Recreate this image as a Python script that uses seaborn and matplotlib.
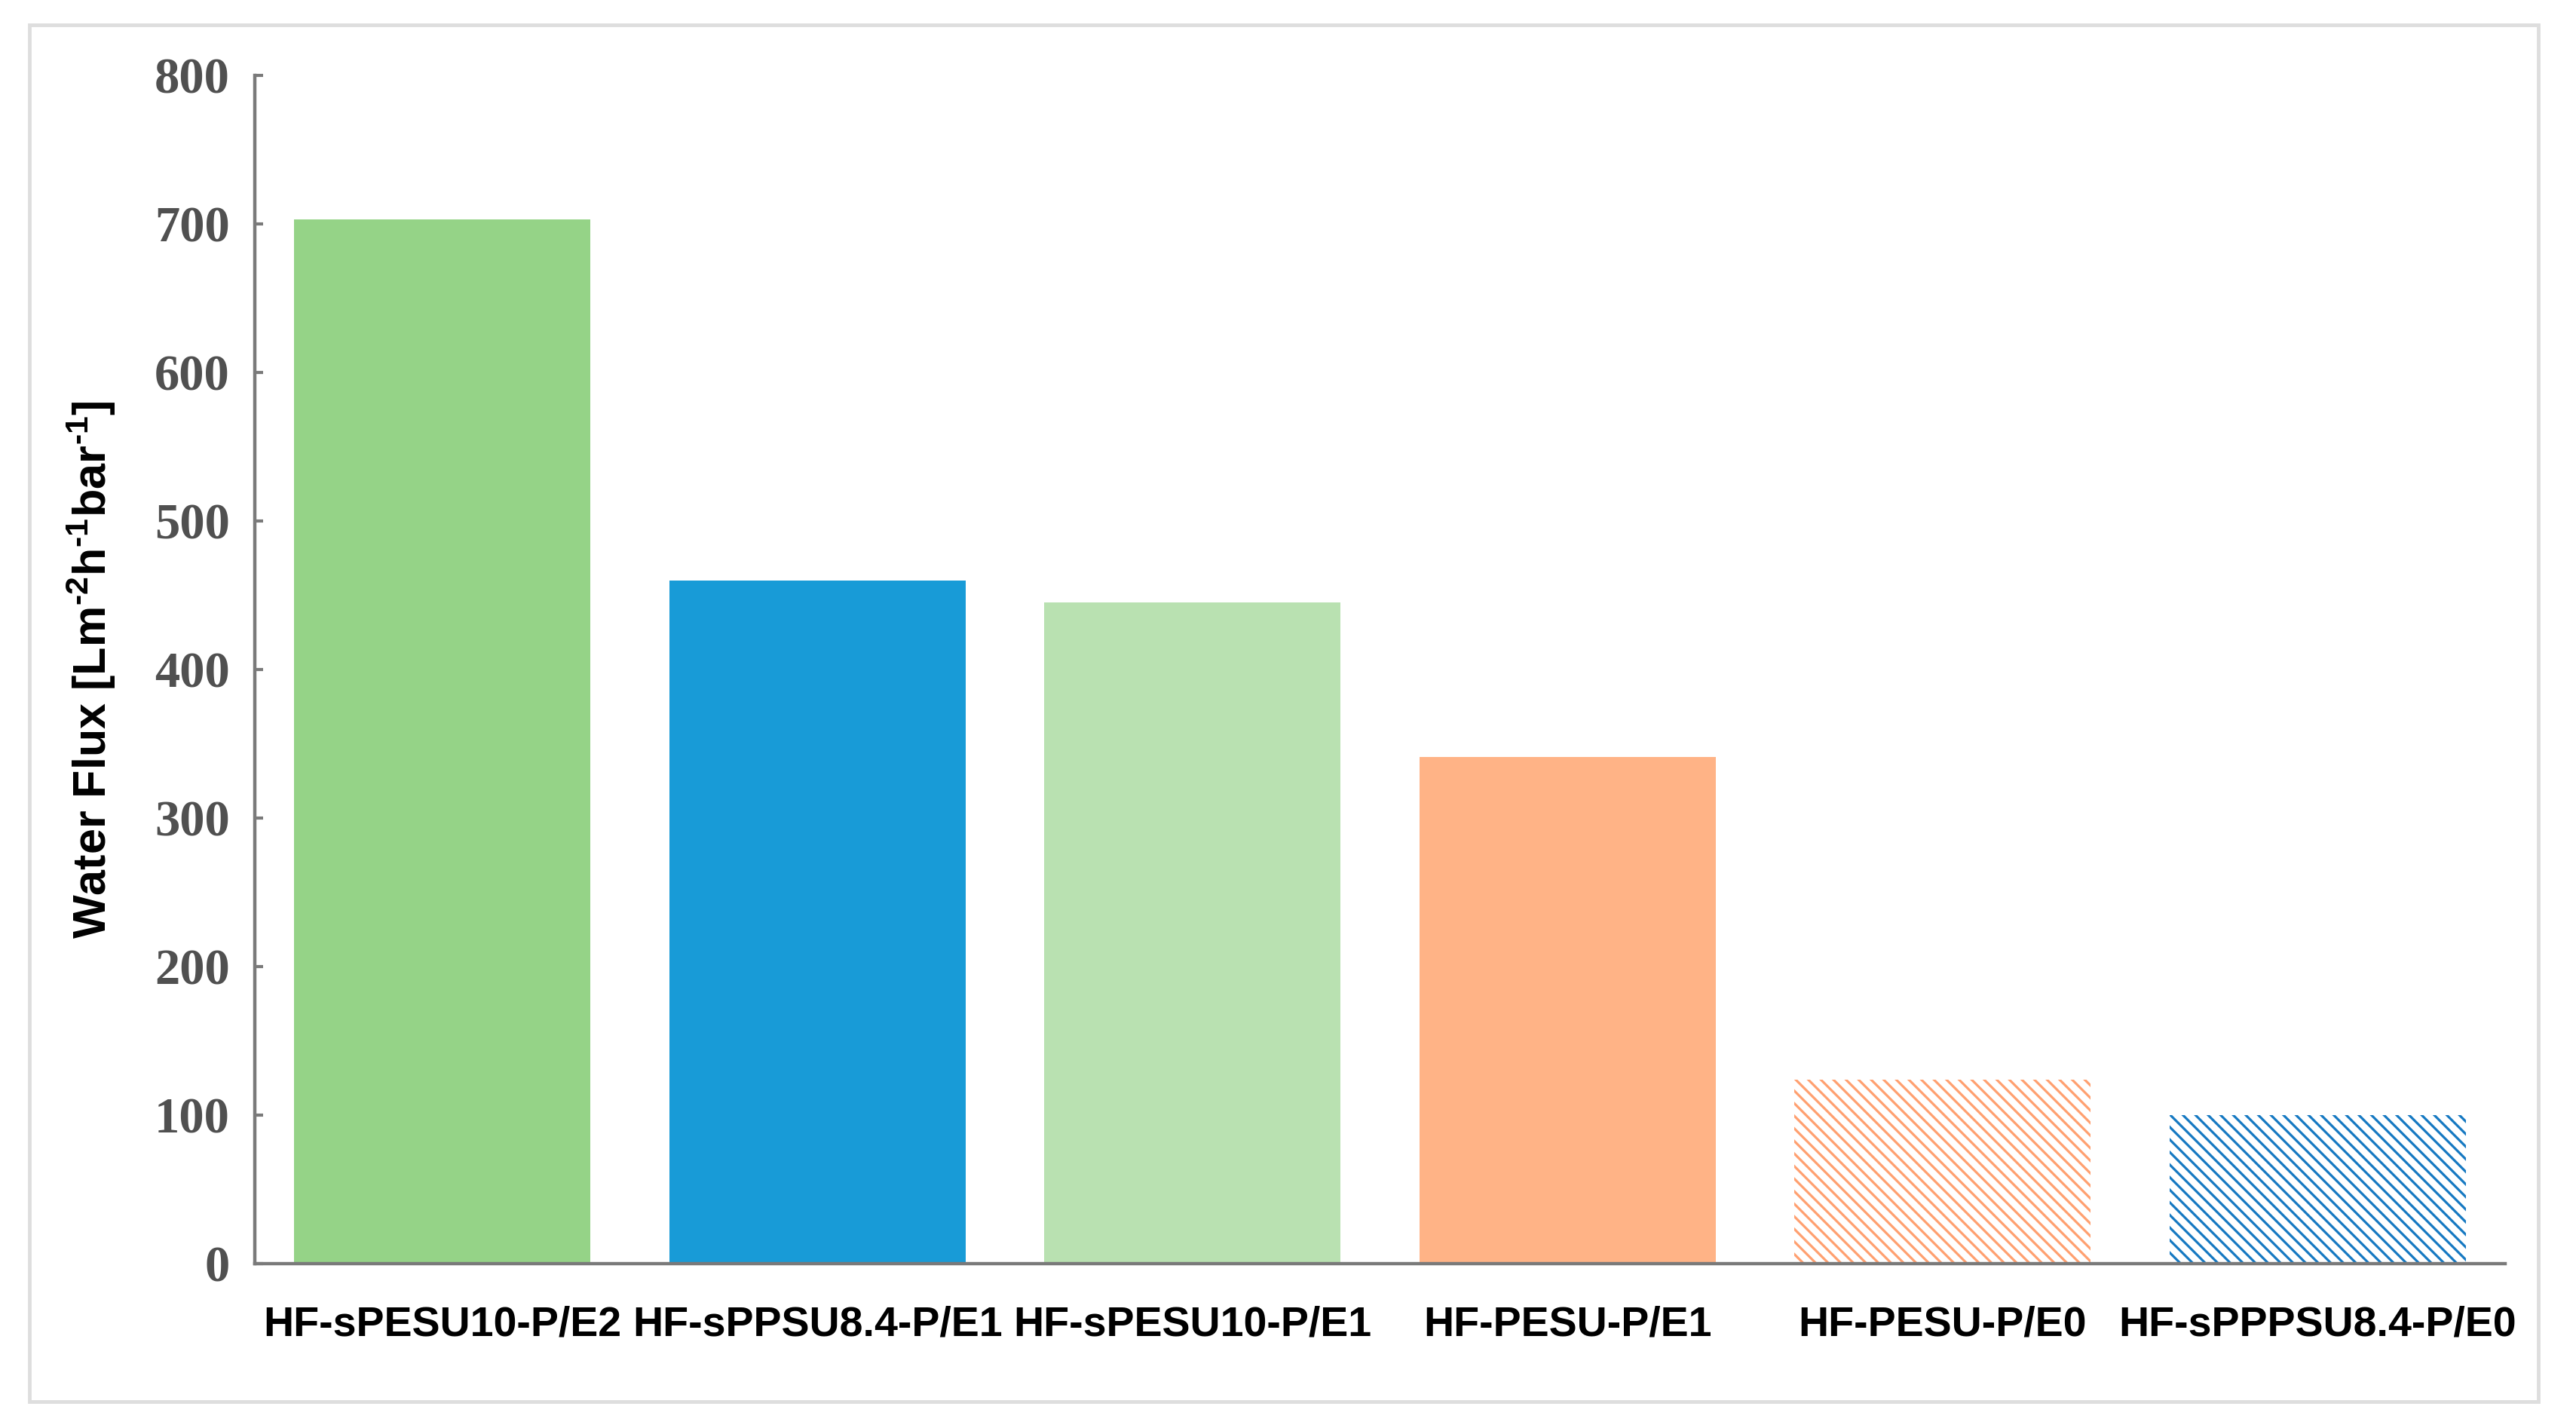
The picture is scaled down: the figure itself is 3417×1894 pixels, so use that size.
import matplotlib
matplotlib.use("Agg")
import matplotlib.pyplot as plt
import matplotlib.patches as mpatches
import seaborn as sns
import pandas as pd

# --- Daten ---
MEMBRANES = ["HF-sPESU10-P/E2", "HF-sPPSU8.4-P/E1", "HF-sPESU10-P/E1",
             "HF-PESU-P/E1", "HF-PESU-P/E0", "HF-sPPPSU8.4-P/E0"]
WATER_FLUX = [703, 460, 445, 341, 124, 100]
BAR_COLORS = ["#95d387", "#189bd7", "#b9e1b1", "#ffb386", "#ffa070", "#1679c2"]
HATCHED = [False, False, False, False, True, True]

Y_TICKS = [0, 100, 200, 300, 400, 500, 600, 700, 800]
AXIS_GRAY = "#7a7a7a"

sns.set_style("white")
plt.rcParams["hatch.linewidth"] = 2.3
plt.rcParams["mathtext.fontset"] = "custom"
plt.rcParams["mathtext.bf"] = "Liberation Sans:bold"
plt.rcParams["mathtext.rm"] = "Liberation Sans:bold"

df = pd.DataFrame({"membrane": MEMBRANES, "flux": WATER_FLUX})

fig = plt.figure(figsize=(34.17, 18.94), dpi=100)
ax = fig.add_axes([0.0989, 0.1151, 0.8736, 0.8321])

sns.barplot(data=df, x="membrane", y="flux", hue="membrane", palette=BAR_COLORS,
            legend=False, width=0.79, saturation=1, ax=ax)

# schraffierte Balken (E0)
for patch, col, hatched in zip(ax.patches, BAR_COLORS, HATCHED):
    patch.set_linewidth(0)
    if hatched:
        patch.set_facecolor("white")
        patch.set_edgecolor(col)
        patch.set_hatch("\\\\")

ax.set_xlim(-0.5, 5.5)
ax.set_ylim(0, 800)
ax.set_yticks(Y_TICKS)
ax.set_xlabel("")
ax.set_ylabel(r"Water Flux [Lm$^{\text{-2}}$h$^{\text{-1}}$bar$^{\text{-1}}$]",
              fontsize=44, fontweight="bold", family="Liberation Sans", color="black")
ax.yaxis.set_label_coords(-0.061, 0.5)

sns.despine(ax=ax)
for side in ["left", "bottom"]:
    ax.spines[side].set_color(AXIS_GRAY)
    ax.spines[side].set_linewidth(3.2)

ax.tick_params(axis="y", direction="in", length=8, width=3, color=AXIS_GRAY,
               pad=24, left=True)
ax.tick_params(axis="x", length=0, pad=40)
for lbl in ax.get_yticklabels():
    lbl.set_fontfamily("Liberation Serif")
    lbl.set_fontweight("bold")
    lbl.set_fontsize(48)
    lbl.set_color("#505050")
for lbl in ax.get_xticklabels():
    lbl.set_fontfamily("Liberation Sans")
    lbl.set_fontweight("bold")
    lbl.set_fontsize(40)
    lbl.set_color("black")

# heller Rahmen um die ganze Grafik
fig.patches.append(mpatches.Rectangle((0.0114, 0.0185), 0.974, 0.964, transform=fig.transFigure,
                                      fill=False, edgecolor="#dedede", linewidth=3.5))

fig.savefig("out.png", dpi=100, facecolor="white")
